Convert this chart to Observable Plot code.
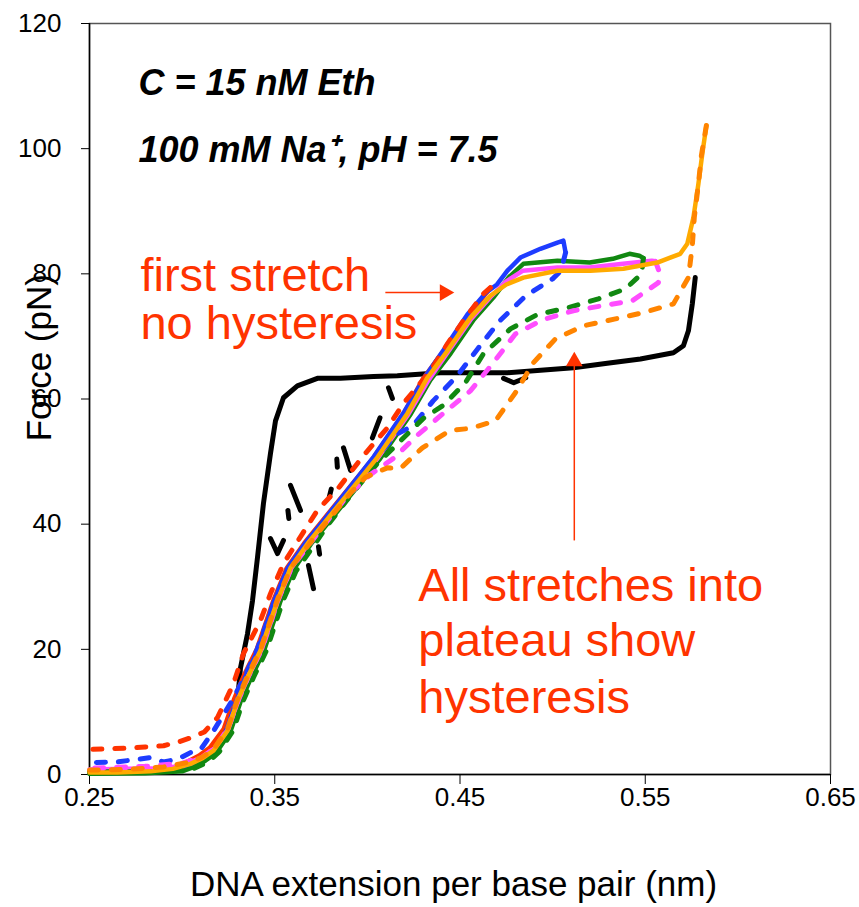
<!DOCTYPE html>
<html><head><meta charset="utf-8">
<script src="https://cdn.jsdelivr.net/npm/d3@7"></script>
<script src="https://cdn.jsdelivr.net/npm/@observablehq/plot@0.6"></script>
<style>body{margin:0;background:#fff}</style>
</head><body><div id="chart"></div>
<script>
// ---- data (extension nm/bp, force pN) ----
const xTicks = [0.25, 0.35, 0.45, 0.55, 0.65];
const yTicks = [0, 20, 40, 60, 80, 100, 120];

const blackStretch = [[0.25,0.3],[0.28,0.4],[0.30,0.9],[0.3045,1.3],[0.317,3.4],[0.3261,7.5],[0.3299,11.8],[0.3315,17],[0.3353,22.5],[0.338,27.8],[0.3407,34.7],[0.3439,43.3],[0.3477,51.3],[0.3504,56.5],[0.3547,60.2],[0.3622,62.1],[0.373,63.3],[0.3855,63.3],[0.4033,63.6],[0.4162,63.7],[0.4394,64.2],[0.4756,64.2],[0.5112,65],[0.5295,65.7],[0.5474,66.4],[0.5652,67.4],[0.5706,68.5],[0.5733,70.9],[0.5754,75.2],[0.577,79.4]];
const blackRelease = [[0.4735,63.3],[0.479,62.6],[0.4855,63.4],null,[0.4114,61.8],[0.4135,60.1],null,[0.4068,57.0],[0.4027,53.8],null,[0.3871,52.2],[0.3909,48.6],null,[0.3835,50.4],[0.3838,49.1],null,[0.3805,45.6],[0.3795,44.4],null,[0.3585,46.2],[0.3639,42.2],null,[0.3571,42.2],[0.3576,40.9],null,[0.3477,37.7],[0.3515,35.3],[0.3547,37.4],null,[0.3736,36.4],[0.3742,35.2],null,[0.3682,33.4],[0.3709,29.7]];

const redStretch = [[0.25,0.5],[0.28,0.7],[0.30,1.3],[0.3025,2],[0.309,3],[0.315,4.3],[0.3225,7.3],[0.328,12],[0.3333,15.8],[0.3403,20],[0.3495,28],[0.3565,33],[0.366,37],[0.375,40.3],[0.389,45.4],[0.403,50.5],[0.4196,57.7],[0.4304,63.4],[0.4412,67.7],[0.4536,73],[0.4644,77],[0.4664,77.8]];
const redRelease = [[0.4664,77.8],[0.4626,76.8],[0.4518,72.5],[0.4432,68.8],[0.434,64.5],[0.4195,59.3],[0.4108,55.4],[0.398,51],[0.385,46],[0.373,42.2],[0.365,38.5],[0.3547,33.7],[0.3477,28.9],[0.3423,24.6],[0.3331,19.3],[0.3277,14.5],[0.3191,9.1],[0.312,6.8],[0.305,5.9],[0.298,5.2],[0.29,4.6],[0.28,4.4],[0.27,4.2],[0.25,4.0]];

const blueStretch = [[0.25,0.2],[0.28,0.3],[0.30,0.7],[0.3045,1.4],[0.311,2.3],[0.317,3.6],[0.3235,6.8],[0.329,11.5],[0.334,15.5],[0.341,20],[0.35,28],[0.357,33],[0.3665,37],[0.3755,40.3],[0.3895,45.5],[0.4035,50.8],[0.42,58],[0.431,63.5],[0.4415,68],[0.454,73.5],[0.464,77],[0.470,78.3],[0.4756,80.5],[0.4826,82.6],[0.4934,84],[0.5026,85],[0.5058,85.3],[0.507,83.4]];
const blueRelease = [[0.507,83.4],[0.5045,80.5],[0.5,79.2],[0.4855,76.5],[0.4715,72.5],[0.4595,68],[0.4485,63.7],[0.4355,59.7],[0.4245,55.7],[0.4165,54.5],[0.404,50.5],[0.389,45.2],[0.3755,40],[0.366,36.5],[0.3565,32.5],[0.3495,27.5],[0.3405,20],[0.3335,15.5],[0.327,11.8],[0.317,7],[0.31,4],[0.3045,3.5],[0.298,2.5],[0.29,2.0],[0.283,2.7],[0.275,2.4],[0.265,2.0],[0.25,1.9]];

const greenStretch = [[0.25,0.1],[0.28,0.2],[0.30,0.5],[0.3065,1.2],[0.3125,2.2],[0.3185,3.5],[0.326,6.8],[0.3315,11.6],[0.337,15.3],[0.344,19.6],[0.353,27.6],[0.36,32.7],[0.3695,36.8],[0.3785,40.1],[0.3925,45.2],[0.4065,50.3],[0.423,57.4],[0.434,63],[0.445,67.3],[0.4575,72.7],[0.468,76.2],[0.4765,79.5],[0.4842,81.6],[0.5026,82.1],[0.520,81.8],[0.5325,82.4],[0.5415,83.2],[0.5468,82.9],[0.549,82.5]];
const greenRelease = [[0.549,82.5],[0.548,80],[0.5393,77.6],[0.5247,76],[0.5085,74.6],[0.4918,73.5],[0.4772,71.2],[0.4626,67.2],[0.4529,62.6],[0.441,59],[0.4302,56.9],[0.4168,53],[0.4054,49.7],[0.392,45],[0.379,40],[0.3615,32.5],[0.3545,27.8],[0.3455,19.8],[0.3385,15.5],[0.333,11.8],[0.3275,7],[0.32,3.6],[0.314,2],[0.305,0.8],[0.29,0.5],[0.25,0.4]];

const magentaStretch = [[0.25,0.8],[0.27,0.9],[0.285,1.0],[0.30,1.3],[0.3045,2],[0.311,2.8],[0.3175,4.2],[0.325,7.3],[0.3305,12],[0.336,15.8],[0.343,20],[0.352,28],[0.359,33],[0.3685,37],[0.3775,40.3],[0.3915,45.4],[0.4055,50.5],[0.422,57.5],[0.433,63],[0.4435,67.5],[0.456,72.8],[0.4665,76.3],[0.475,78.8],[0.484,80.5],[0.5026,81],[0.520,81],[0.538,81.6],[0.5535,82.1],[0.5555,82]];
const magentaRelease = [[0.5555,82],[0.558,80],[0.5571,78.6],[0.543,75.7],[0.5268,74.9],[0.5112,74.1],[0.495,72.7],[0.4799,70.4],[0.468,65.8],[0.4556,61.3],[0.441,57.7],[0.427,54.2],[0.414,50.5],[0.402,48],[0.39,44.8],[0.377,40],[0.359,33],[0.352,28],[0.343,20],[0.336,15.8],[0.3305,12],[0.325,7.5],[0.318,4.3],[0.311,2.8],[0.30,1.8],[0.28,1.3],[0.25,1.0]];

const goldStretch = [[0.25,0.3],[0.265,0.3],[0.283,0.5],[0.295,0.9],[0.3045,1.7],[0.311,2.6],[0.3169,3.8],[0.3245,7.0],[0.3299,11.8],[0.3353,15.5],[0.3423,19.8],[0.3515,27.8],[0.3585,33],[0.368,37],[0.377,40.3],[0.391,45.4],[0.405,50.5],[0.4216,57.7],[0.4324,63.4],[0.4432,67.7],[0.4556,73],[0.4664,76.5],[0.475,78.3],[0.4842,79.4],[0.5026,80.5],[0.5204,80.5],[0.5382,80.8],[0.5565,81.8],[0.5635,82.6],[0.5689,83.2],[0.5727,84.8],[0.576,89],[0.5787,94.4],[0.5808,99.2],[0.583,103.7]];
const darkOrangeRelease = [[0.583,103.7],[0.5803,98.9],[0.5786,94.1],[0.5765,89.1],[0.5754,84.5],[0.5733,79.4],[0.5652,75.2],[0.549,73.8],[0.5339,72.8],[0.5166,71.7],[0.5015,69.6],[0.4896,65.8],[0.4799,61],[0.4691,56.5],[0.4556,55.3],[0.4448,55],[0.4297,52.2],[0.4178,48.9],[0.4108,49],[0.399,47.5],[0.391,45],[0.377,40],[0.3585,33],[0.3515,28],[0.3423,20],[0.3353,15.8],[0.3299,12],[0.3245,7.3],[0.3169,4],[0.311,2.8],[0.3045,2],[0.29,1.2],[0.27,0.8],[0.25,0.7]];

const conditionLines = ["C = 15 nM Eth", "100 mM Na\u207A, pH = 7.5"];
const firstNote = ["first stretch", "no hysteresis"];
const plateauNote = ["All stretches into", "plateau show", "hysteresis"];
const xLabel = "DNA extension per base pair (nm)";
const yLabel = "Force (pN)";

// ---- drawing ----
const RED = "#ff3300";
const X = d => d ? d[0] : NaN, Y = d => d ? d[1] : NaN;
const solid = (data, color, w = 4.5) => Plot.line(data, {x: X, y: Y, stroke: color, strokeWidth: w, strokeLinejoin: "round"});
const dashed = (data, color) => Plot.line(data, {x: X, y: Y, stroke: color, strokeWidth: 5, strokeDasharray: "9,13"});

const chart = Plot.plot({
  width: 859, height: 907,
  marginLeft: 89, marginRight: 29, marginTop: 23, marginBottom: 133,
  x: {domain: [0.25, 0.65]},
  y: {domain: [0, 120]},
  style: {fontFamily: "'Liberation Sans', Arial, sans-serif", fontSize: "26px", background: "white", color: "black"},
  marks: [
    Plot.frame({stroke: "#555", strokeWidth: 1.5}),
    Plot.axisX({ticks: xTicks, tickFormat: d => d.toFixed(2), tickSize: 10, tickPadding: 3, label: null}),
    Plot.axisY({ticks: yTicks, tickSize: 8, tickPadding: 20, label: null}),
    Plot.ruleX([0.25], {stroke: "black", strokeWidth: 1.5}),
    Plot.ruleY([0], {stroke: "black", strokeWidth: 1.5}),
    solid(blackStretch, "black", 5),
    Plot.line(blackRelease, {x: X, y: Y, stroke: "black", strokeWidth: 5}),
    solid(redStretch, RED),
    solid(blueStretch, "#1e3cff"),
    solid(greenStretch, "#118811"),
    solid(magentaStretch, "#ff4dff"),
    dashed(blueRelease, "#1e3cff"),
    dashed(greenRelease, "#118811"),
    dashed(magentaRelease, "#ff4dff"),
    dashed(redRelease, RED),
    solid(goldStretch, "#ffaa00"),
    dashed(darkOrangeRelease, "#ff8400"),
    // annotations
    Plot.text(conditionLines, {x: 0.2764, y: (d, i) => [108.5, 97.9][i], text: d => d, textAnchor: "start", lineAnchor: "bottom", fontSize: 36, fontWeight: "bold", fontStyle: "italic"}),
    Plot.text(firstNote, {x: 0.2775, y: (d, i) => [77.3, 69.6][i], text: d => d, textAnchor: "start", lineAnchor: "bottom", fontSize: 47, fill: RED}),
    Plot.text(plateauNote, {x: 0.4275, y: (d, i) => [27.8, 19.0, 9.9][i], text: d => d, textAnchor: "start", lineAnchor: "bottom", fontSize: 47, fill: RED}),
    Plot.link([0], {x1: 0.4097, x2: 0.4394, y1: 77, y2: 77, stroke: RED, strokeWidth: 1.5}),
    Plot.dot([0], {x: 0.4417, y: 77, symbol: "triangle2", r: 8, fill: RED, stroke: "none", rotate: 90}),
    Plot.link([0], {x1: 0.5117, x2: 0.5117, y1: 65.3, y2: 37.4, stroke: RED, strokeWidth: 1.5}),
    Plot.dot([0], {x: 0.5117, y: 66.0, symbol: "triangle2", r: 8, fill: RED, stroke: "none"}),
    Plot.text([xLabel], {x: 0.4465, frameAnchor: "bottom", dy: 121, text: d => d, lineAnchor: "bottom", textAnchor: "middle", fontSize: 35}),
    Plot.text([yLabel], {y: 66.6, frameAnchor: "left", dx: -39, rotate: -90, text: d => d, lineAnchor: "bottom", textAnchor: "middle", fontSize: 35})
  ]
});
document.getElementById("chart").appendChild(chart);
</script>
</body></html>
